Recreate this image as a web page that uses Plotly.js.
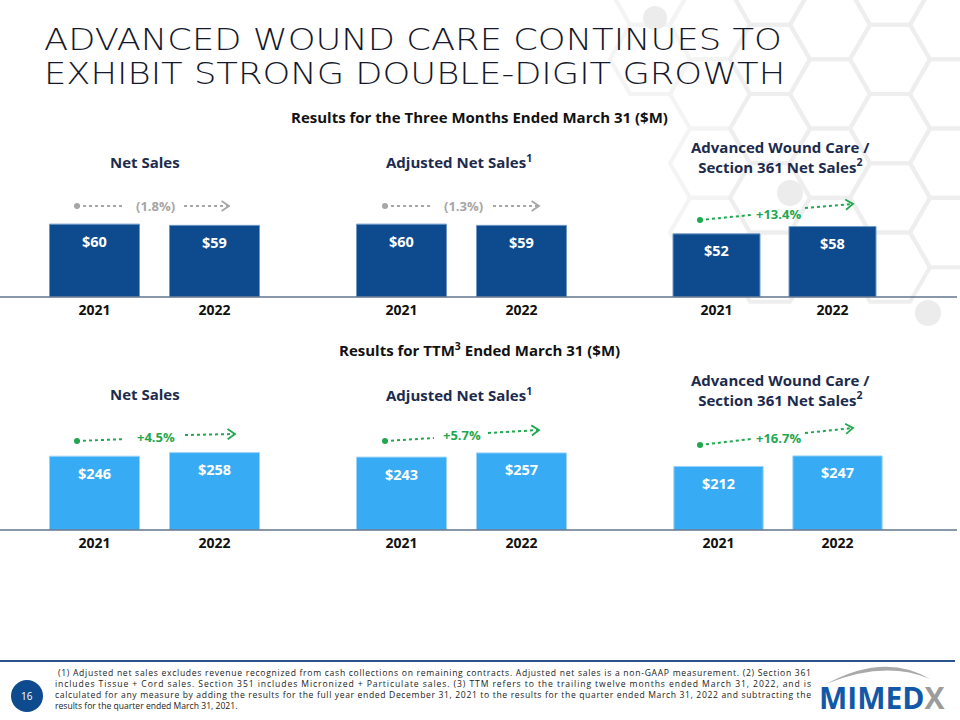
<!DOCTYPE html>
<html><head><meta charset="utf-8">
<script src="https://cdn.plot.ly/plotly-3.0.1.min.js"></script>
<style>html,body{margin:0;padding:0;background:#fff;overflow:hidden}</style>
</head><body><div id="chart" style="width:960px;height:720px"></div>
<script>
// ---------------- data ----------------
const years = ['2021', '2022'];
const panelTitles = ['Net Sales', 'Adjusted Net Sales<sup>1</sup>', 'Advanced Wound Care /<br>Section 361 Net Sales<sup>2</sup>'];
const quarterNetSales = [60, 59];
const quarterAdjNetSales = [60, 59];
const quarterAwcSales = [52, 58];
const ttmNetSales = [246, 258];
const ttmAdjNetSales = [243, 257];
const ttmAwcSales = [212, 247];
const quarterGrowth = ['(1.8%)', '(1.3%)', '+13.4%'];
const ttmGrowth = ['+4.5%', '+5.7%', '+16.7%'];
const sectionTitles = ['Results for the Three Months Ended March 31 ($M)', 'Results for TTM<sup>3</sup> Ended March 31 ($M)'];
const pageTitleLines = ['ADVANCED WOUND CARE CONTINUES TO', 'EXHIBIT STRONG DOUBLE-DIGIT GROWTH'];
const footnoteLines = [
  ' (1) Adjusted net sales excludes revenue recognized from cash collections on remaining contracts. Adjusted net sales is a non-GAAP measurement. (2) Section 361',
  'includes Tissue + Cord sales. Section 351 includes Micronized + Particulate sales. (3) TTM refers to the trailing twelve months ended March 31, 2022, and is',
  'calculated for any measure by adding the results for the full year ended December 31, 2021 to the results for the quarter ended March 31, 2022 and subtracting the',
  'results for the quarter ended March 31, 2021.'
];
const pageNumber = '16';

// ---------------- styling / layout helpers ----------------
const W = 960, H = 720;
const fx = x => x / W, fy = y => 1 - y / H;
const BOLD = "'Open Sans', 'Noto Sans', sans-serif";
const NAVY = '#1c2b4d';
const DARKBLUE = '#0d4b8e';
const LIGHTBLUE = '#37abf3';
const GREEN = '#1fa84f';
const GRAY = '#a6a6a6';

const rows = [
  { values: [quarterNetSales, quarterAdjNetSales, quarterAwcSales], growth: quarterGrowth,
    base: 297, h: 85, max: 70, color: DARKBLUE, line: '#6f98c8',
    xdom: [[34.5, 274.5], [341.5, 581.5], [658.5, 890.5]], titleY: [162, 162, 156.5], sectionY: 117,
    arrows: [[77,206,125,206,155,206,184,206,229,206],[385,206,433,206,463,206,493,206,539,206],[700,220,751,215,778,214,805,208,853,204]] },
  { values: [ttmNetSales, ttmAdjNetSales, ttmAwcSales], growth: ttmGrowth,
    base: 530, h: 84, max: 280, color: LIGHTBLUE, line: '#9dd3f7',
    xdom: [[34.5, 274.5], [341.5, 581.5], [659, 897]], titleY: [394, 394, 389.5], sectionY: 349,
    arrows: [[77,441,125,439,156,437,185,435,235,434],[385,441,434,438,462,435,488,433,539,430],[700,445,751,439,778,438,805,433,853,428]] }
];

const data = [];
const layout = {
  width: W, height: H, margin: { l: 0, r: 0, t: 0, b: 0 },
  paper_bgcolor: '#ffffff', plot_bgcolor: 'rgba(0,0,0,0)',
  showlegend: false, bargap: 0.25,
  font: { family: BOLD, color: '#111' },
  annotations: [], shapes: []
};
const A = layout.annotations, S = layout.shapes;

// background honeycomb
const R = 40, colStep = 1.5 * R, rowStep = Math.sqrt(3) * R;
for (let c = 0; c < 8; c++) {
  const cx = 650 + c * colStep;
  for (let r = -1; r < 6; r++) {
    const cy = -10 + r * rowStep + (c % 2 ? rowStep / 2 : 0);
    if (cy > 300 || (cx < 700 && cy > 120)) continue;
    let p = '';
    for (let k = 0; k < 6; k++) {
      const a = Math.PI / 3 * k;
      p += (k ? 'L' : 'M') + fx(cx + R * Math.cos(a)).toFixed(5) + ',' + fy(cy + R * Math.sin(a)).toFixed(5);
    }
    S.push({ type: 'path', xref: 'paper', yref: 'paper', path: p + 'Z', layer: 'below',
             line: { color: cx < 720 ? '#f4f4f4' : '#eeeeee', width: 4 } });
  }
}
[[655, 18, 12], [790, 193, 13], [928, 313, 13]].forEach(([x, y, r]) => {
  S.push({ type: 'circle', xref: 'paper', yref: 'paper', layer: 'below',
           x0: fx(x - r), x1: fx(x + r), y0: fy(y + r), y1: fy(y - r),
           fillcolor: '#ececec', line: { width: 0 } });
});

// title (one text block; line spacing and width are set after drawing)
const titleIndex = A.length;
const TITLE_SIZE = 29.5, TITLE_GAP = 34.4, TITLE_WIDTH = 738;
A.push({ xref: 'paper', yref: 'paper', x: fx(42), y: fy(21), xanchor: 'left', yanchor: 'top', align: 'left',
         text: pageTitleLines.join('<br>'), showarrow: false,
         font: { family: "'DejaVu Sans', sans-serif", weight: 200, size: TITLE_SIZE, color: '#15182a' } });

rows.forEach((row, ri) => {
  const yid = ri === 0 ? 'y' : 'y2';
  const yname = ri === 0 ? 'yaxis' : 'yaxis2';
  layout[yname] = { domain: [fy(row.base), fy(row.base - row.h)], range: [0, row.max],
                    visible: false, fixedrange: true, anchor: 'x' + (ri * 3 + 1) };
  // section title
  A.push({ xref: 'paper', yref: 'paper', x: fx(479), y: fy(row.sectionY), xanchor: 'center', yanchor: 'middle',
           text: '<b>' + sectionTitles[ri] + '</b>', showarrow: false, font: { size: 15, color: '#111' } });
  // baseline
  S.push({ type: 'line', xref: 'paper', yref: 'paper', x0: 0, x1: fx(957), y0: fy(row.base), y1: fy(row.base),
           line: { color: '#60758c', width: 1.5 } });
  row.values.forEach((vals, pi) => {
    const n = ri * 3 + pi + 1;
    const xid = 'x' + (n === 1 ? '' : n);
    const xname = 'xaxis' + (n === 1 ? '' : n);
    layout[xname] = { domain: [fx(row.xdom[pi][0]), fx(row.xdom[pi][1])], type: 'category',
                      range: [-0.5, 1.5], anchor: yid, showgrid: false, zeroline: false, showline: false,
                      ticks: '', fixedrange: true, ticklabelstandoff: 3,
                      tickfont: { family: BOLD, weight: 700, size: 14, color: '#111' } };
    data.push({ type: 'bar', x: years, y: vals, xaxis: xid, yaxis: yid, width: 0.75,
                marker: { color: row.color, line: { color: row.line, width: 1 } },
                hoverinfo: 'skip' });
    vals.forEach((v, k) => {
      A.push({ xref: xid, yref: yid, x: k, y: v, yshift: -17, xanchor: 'center', yanchor: 'middle',
               text: '<b>$' + v + '</b>', showarrow: false, font: { size: 14.5, color: '#ffffff' } });
    });
    // panel title
    A.push({ xref: 'paper', yref: 'paper', x: fx(pi === 0 ? 145 : pi === 1 ? 459 : 780), y: fy(row.titleY[pi]),
             xanchor: 'center', yanchor: 'middle', text: '<b>' + panelTitles[pi] + '</b>', showarrow: false,
             font: { size: 15, color: NAVY } });
    // growth arrow
    const g = row.arrows[pi];
    const label = row.growth[pi];
    const col = label.startsWith('(') ? GRAY : GREEN;
    S.push({ type: 'line', xref: 'paper', yref: 'paper', x0: fx(g[0]), y0: fy(g[1]), x1: fx(g[2]), y1: fy(g[3]),
             line: { color: col, width: 2, dash: 'dot' } });
    S.push({ type: 'line', xref: 'paper', yref: 'paper', x0: fx(g[6]), y0: fy(g[7]), x1: fx(g[8]), y1: fy(g[9]),
             line: { color: col, width: 2, dash: 'dot' } });
    S.push({ type: 'circle', xref: 'paper', yref: 'paper', x0: fx(g[0] - 3), x1: fx(g[0] + 3), y0: fy(g[1] + 3), y1: fy(g[1] - 3),
             fillcolor: col, line: { width: 0 } });
    const ang = Math.atan2(g[9] - g[7], g[8] - g[6]);
    const arm = 9, spread = 0.6;
    const p1 = [g[8] - arm * Math.cos(ang - spread), g[9] - arm * Math.sin(ang - spread)];
    const p2 = [g[8] - arm * Math.cos(ang + spread), g[9] - arm * Math.sin(ang + spread)];
    S.push({ type: 'path', xref: 'paper', yref: 'paper',
             path: 'M' + fx(p1[0]) + ',' + fy(p1[1]) + 'L' + fx(g[8]) + ',' + fy(g[9]) + 'L' + fx(p2[0]) + ',' + fy(p2[1]),
             line: { color: col, width: 1.8 } });
    A.push({ xref: 'paper', yref: 'paper', x: fx(g[4]), y: fy(g[5]), xanchor: 'center', yanchor: 'middle',
             text: '<b>' + label + '</b>', showarrow: false, font: { size: 13, color: col } });
  });
});

// footer
S.push({ type: 'line', xref: 'paper', yref: 'paper', x0: 0, x1: fx(955), y0: fy(661), y1: fy(661),
         line: { color: '#2a528c', width: 2 } });
S.push({ type: 'circle', xref: 'paper', yref: 'paper', x0: fx(11), x1: fx(43), y0: fy(712), y1: fy(680),
         fillcolor: DARKBLUE, line: { width: 0 } });
A.push({ xref: 'paper', yref: 'paper', x: fx(27), y: fy(696), xanchor: 'center', yanchor: 'middle',
         text: pageNumber, showarrow: false, font: { size: 10, color: '#ffffff', family: BOLD } });
const footIndex = A.length;
A.push({ xref: 'paper', yref: 'paper', x: fx(53), y: fy(665), xanchor: 'left', yanchor: 'top',
         align: 'left', text: footnoteLines.map(t => t.replace(/ /g, '\u00a0')).join('<br>'), showarrow: false,
         font: { size: 8.6, color: '#222', family: BOLD } });
// logo
S.push({ type: 'path', xref: 'paper', yref: 'paper', fillcolor: '#a9a9a9', line: { width: 0 },
         path: 'M' + fx(826) + ',' + fy(684) + 'Q' + fx(885) + ',' + fy(652) + ' ' + fx(930) + ',' + fy(679) +
               'Q' + fx(885) + ',' + fy(660) + ' ' + fx(826) + ',' + fy(684) + 'Z' });
A.push({ xref: 'paper', yref: 'paper', x: fx(882), y: fy(697), xanchor: 'center', yanchor: 'middle', showarrow: false,
         text: '<b>MIMED<span style="color:#9c9c9c">X</span></b>',
         font: { size: 30, color: '#1158a7', family: BOLD } });

Plotly.newPlot('chart', data, layout, { staticPlot: true }).then(() => {
  // title: slide line spacing, glyphs widened to the slide's wide typeface
  const tg = document.querySelector('.annotation[data-index="' + titleIndex + '"]');
  if (tg) {
    const txt = tg.querySelector('text.annotation-text');
    const lines = tg.querySelectorAll('tspan.line');
    lines.forEach((ts, i) => ts.setAttribute('dy', (i * TITLE_GAP) + 'px'));
    if (txt && lines.length) {
      const natural = lines[0].getComputedTextLength();
      const x0 = parseFloat(lines[0].getAttribute('x')) || 0;
      const s = natural > 0 ? TITLE_WIDTH / natural : 1;
      txt.setAttribute('transform', 'translate(' + x0 + ',0) scale(' + s.toFixed(4) + ',1) translate(' + (-x0) + ',0)');
    }
  }
  // footnote: 11px line spacing, first three lines justified
  const g = document.querySelector('.annotation[data-index="' + footIndex + '"]');
  if (!g) return;
  g.querySelectorAll('tspan.line').forEach((ts, i) => {
    ts.setAttribute('dy', (i * 11) + 'px');
    if (i < 3) { ts.setAttribute('textLength', 756); ts.setAttribute('lengthAdjust', 'spacing'); }
  });
});
</script></body></html>
